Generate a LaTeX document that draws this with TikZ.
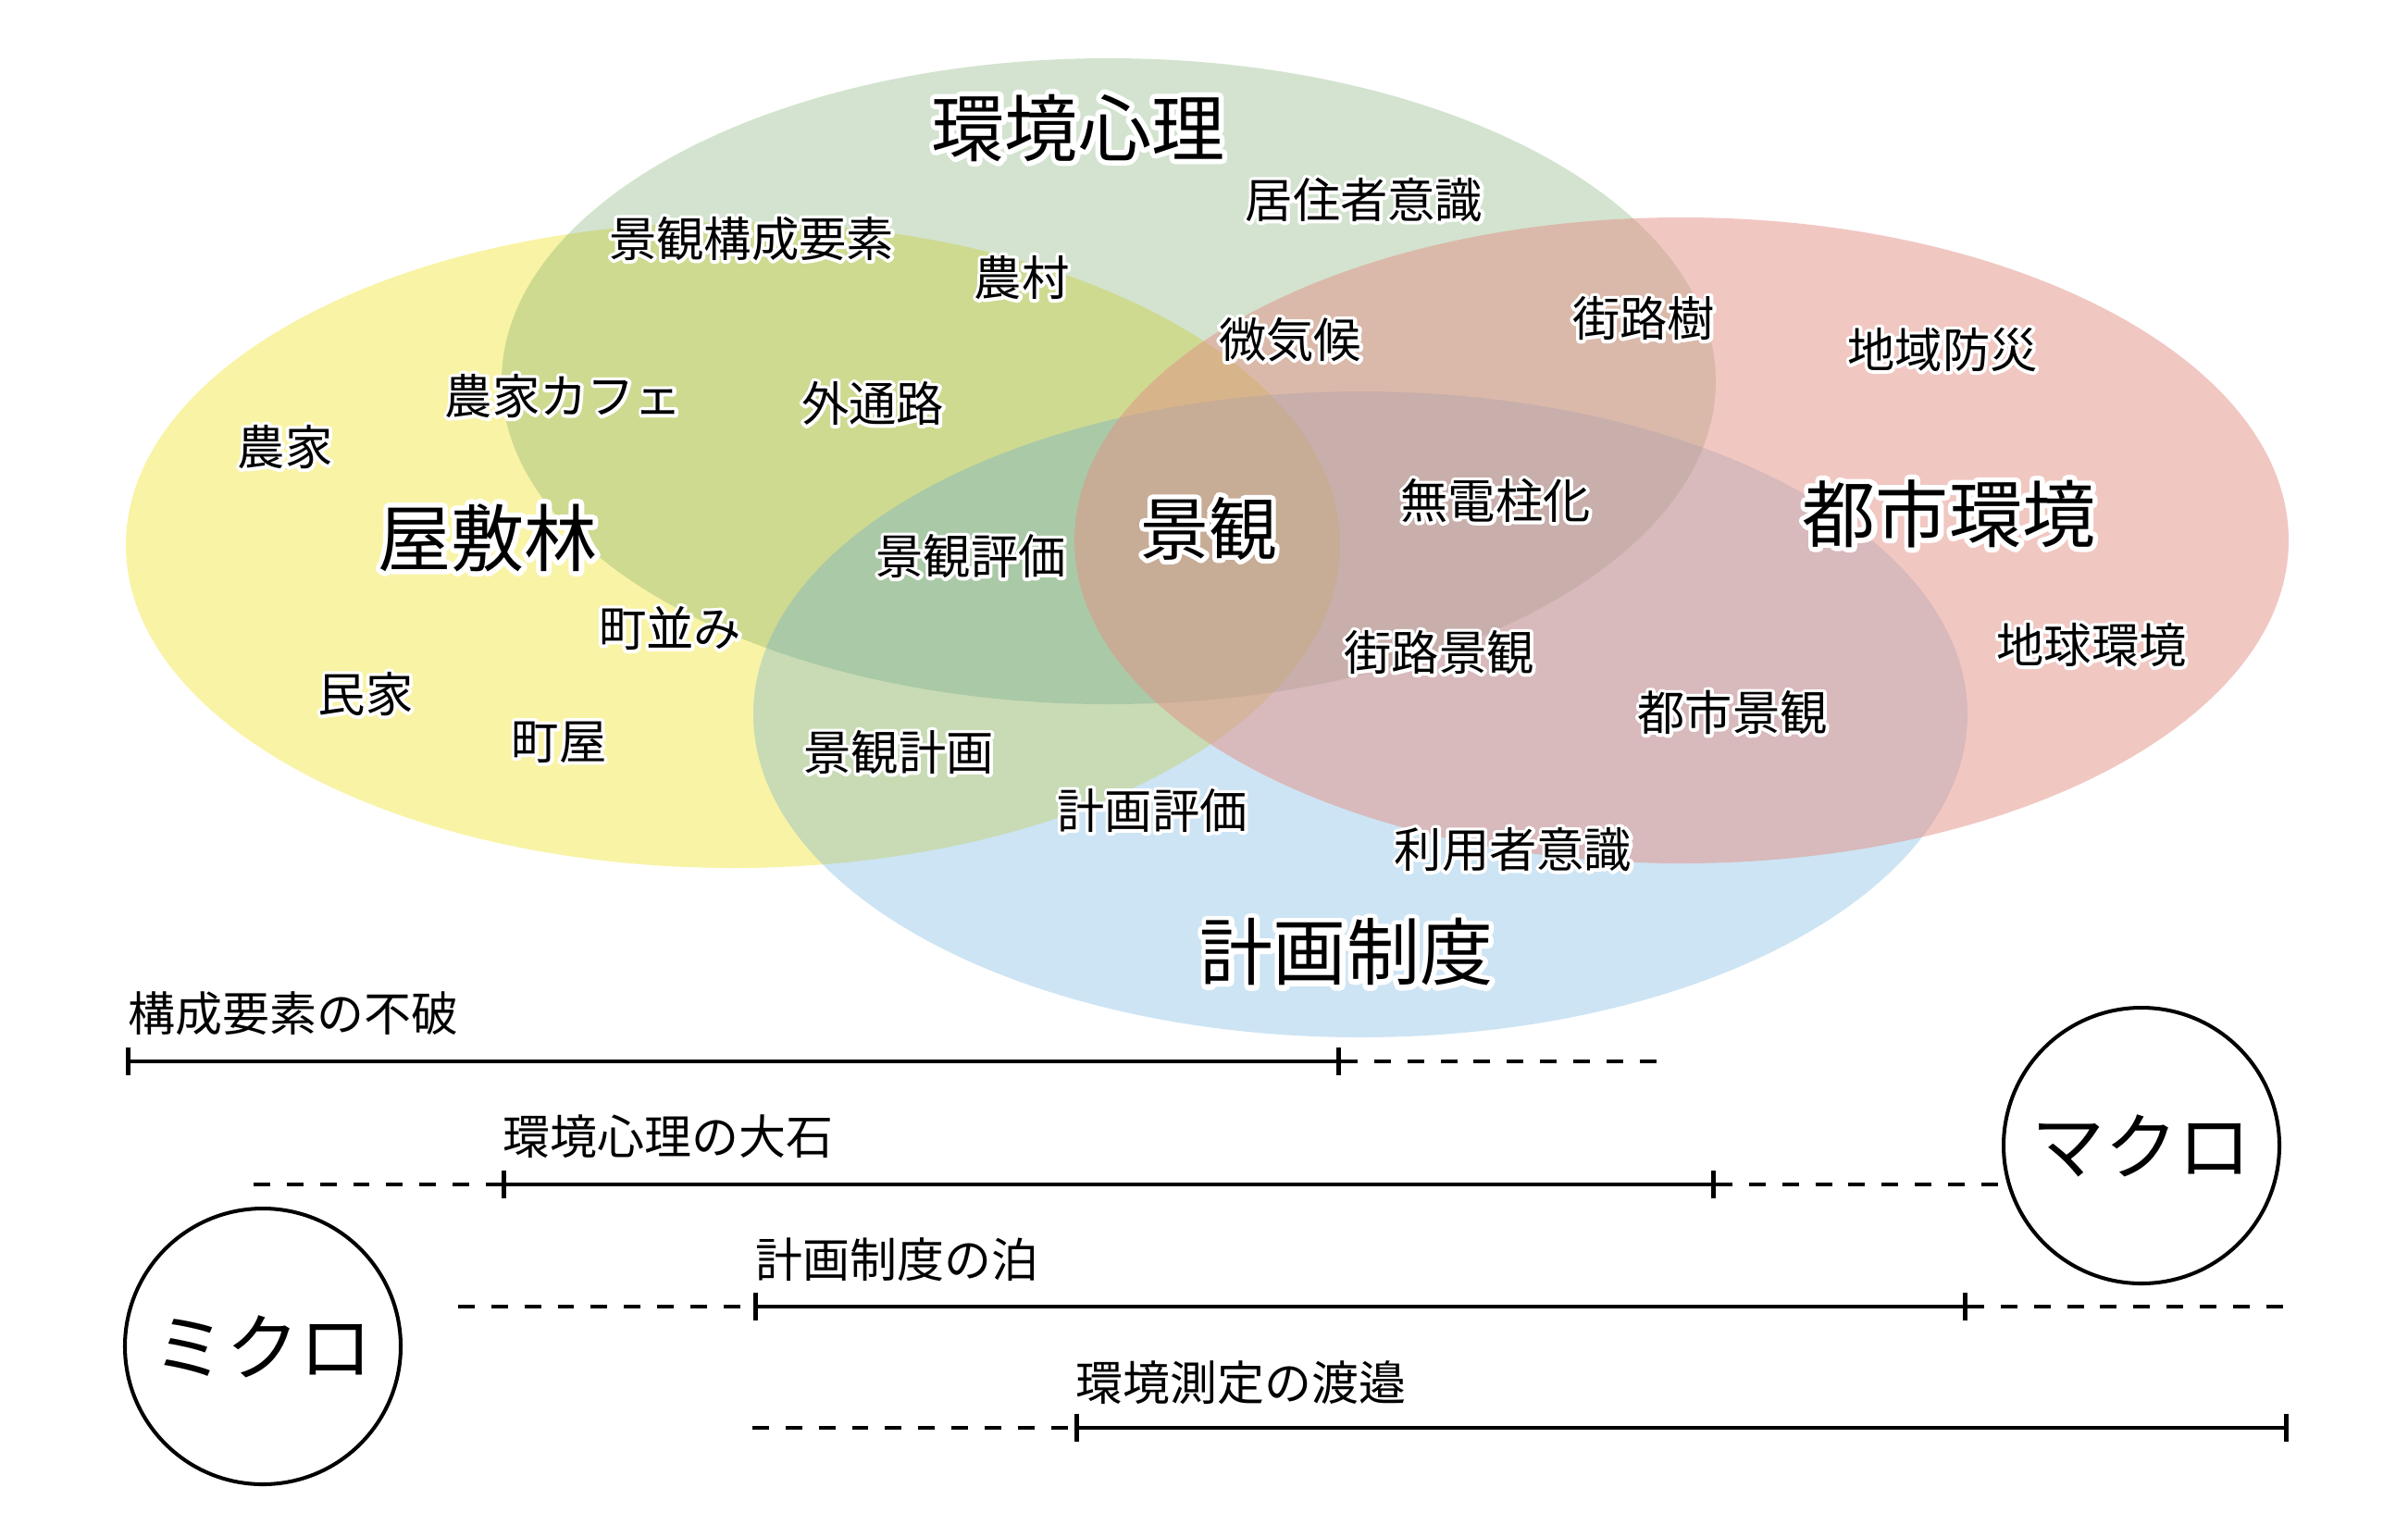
\documentclass[tikz,border=0pt]{standalone}
\usepackage{fontspec}
\setmainfont{Noto Sans CJK JP}
\newfontfamily\halofont[FakeBold=14]{Noto Sans CJK JP}
\usepackage{tikz}
\usetikzlibrary{arrows.meta,positioning}
\definecolor{yashiki}{HTML}{F3E74D}
\definecolor{shinri}{HTML}{6CA25F}
\definecolor{toshi}{HTML}{E38F85}
\definecolor{seido}{HTML}{58A5DA}
\newcommand{\hl}[1]{\rlap{\halofont\color{white}#1}#1}
\tikzset{zone/.style={fill opacity=0.3},kw/.style={font=\fontsize{14.6}{17}\selectfont,inner sep=0pt,line join=round},big/.style={font=\fontsize{22.5}{26}\selectfont,inner sep=0pt,line join=round}}

\begin{document}
\begin{tikzpicture}[circ/.style={draw,circle,line width=1.15pt,minimum size=2.98cm,inner sep=0pt,font=\fontsize{22.5}{26}\selectfont},rng/.style={{Bar[width=8.3pt]}-{Bar[width=8.3pt]},line width=1.4pt},dsh/.style={line width=1.4pt,dash pattern=on 5.1pt off 5.1pt},who/.style={font=\fontsize{14.5}{17}\selectfont,inner sep=0pt,anchor=west}]
\useasboundingbox (0,0) rectangle (26.02,-16.6);
% four fields
\fill[yashiki,fill opacity=0.5] (7.92,-5.89) ellipse [x radius=6.56,y radius=3.49];
\fill[zone,shinri] (11.98,-4.12) ellipse [x radius=6.56,y radius=3.49];
\fill[zone,seido] (14.70,-7.72) ellipse [x radius=6.56,y radius=3.49];
\fill[toshi,fill opacity=0.5] (18.17,-5.84) ellipse [x radius=6.56,y radius=3.49];
% field names
\node[big] (yashikirin) at (5.27,-5.81) {\hl{屋敷林}};
\node[big] (kankyo) at (11.65,-1.38) {\hl{環境心理}};
\node[big] (toshikankyo) at (21.06,-5.55) {\hl{都市環境}};
\node[big] (keikaku) at (14.55,-10.29) {\hl{計画制度}};
\node[big,font=\fontsize{21}{24}\selectfont] (keikan) at (13.06,-5.71) {\hl{景観}};
% keywords
\node[kw] (kyoju) at (14.74,-2.16) {\hl{居住者意識}};
\node[kw] (kosei) at (8.12,-2.58) {\hl{景観構成要素}};
\node[kw] (noson) at (11.04,-3.00) {\hl{農村}};
\node[kw] (bikiko) at (13.94,-3.67) {\hl{微気候}};
\node[kw] (gairoju) at (17.76,-3.44) {\hl{街路樹}};
\node[kw] (bosai) at (20.99,-3.78) {\hl{地域防災}};
\node[kw] (cafe) at (6.09,-4.28) {\hl{農家カフェ}};
\node[kw] (sototsuro) at (9.43,-4.36) {\hl{外通路}};
\node[kw] (noka) at (3.08,-4.83) {\hl{農家}};
\node[kw] (hyoka) at (10.49,-6.01) {\hl{景観評価}};
\node[kw] (mudenchu) at (16.16,-5.41) {\hl{無電柱化}};
\node[kw] (machinami) at (7.24,-6.79) {\hl{町並み}};
\node[kw] (chikyu) at (22.60,-6.97) {\hl{地球環境}};
\node[kw] (gairo) at (15.55,-7.05) {\hl{街路景観}};
\node[kw] (minka) at (3.95,-7.50) {\hl{民家}};
\node[kw] (toshikeikan) at (18.72,-7.70) {\hl{都市景観}};
\node[kw] (machiya) at (6.04,-8.02) {\hl{町屋}};
\node[kw] (kkeikaku) at (9.71,-8.13) {\hl{景観計画}};
\node[kw] (khyoka) at (12.45,-8.76) {\hl{計画評価}};
\node[kw] (riyosha) at (16.35,-9.18) {\hl{利用者意識}};
% scale of each study
\node[circ] (macro) at (23.14,-12.38) {マクロ};
\node[circ] (micro) at (2.84,-14.55) {ミクロ};
\node[who] (fuwa) at (1.38,-10.95) {構成要素の不破};
\node[who] (oishi) at (5.43,-12.28) {環境心理の大石};
\node[who] (tomari) at (8.16,-13.61) {計画制度の泊};
\node[who] (watanabe) at (11.62,-14.94) {環境測定の渡邉};
\coordinate (f1) at (1.36,-11.47); \coordinate (f2) at (14.49,-11.47); \coordinate (f3) at (17.96,-11.47);
\coordinate (o0) at (2.74,-12.80); \coordinate (o1) at (5.42,-12.80); \coordinate (o2) at (18.54,-12.80);
\coordinate (t0) at (4.95,-14.12); \coordinate (t1) at (8.14,-14.12); \coordinate (t2) at (21.26,-14.12); \coordinate (t3) at (24.73,-14.12);
\coordinate (w0) at (8.13,-15.43); \coordinate (w1) at (11.61,-15.43); \coordinate (w2) at (24.73,-15.43);
\draw[rng] (f1)--(f2);\draw[dsh] (f2)--(f3);
\draw[dsh] (o0)--(o1);\draw[rng] (o1)--(o2);\draw[dsh] (o2)--(macro.west|-o2);
\draw[dsh] (t0)--(t1);\draw[rng] (t1)--(t2);\draw[dsh] (t2)--(t3);
\draw[dsh] (w0)--(w1);\draw[rng] (w1)--(w2);
\end{tikzpicture}
\end{document}
